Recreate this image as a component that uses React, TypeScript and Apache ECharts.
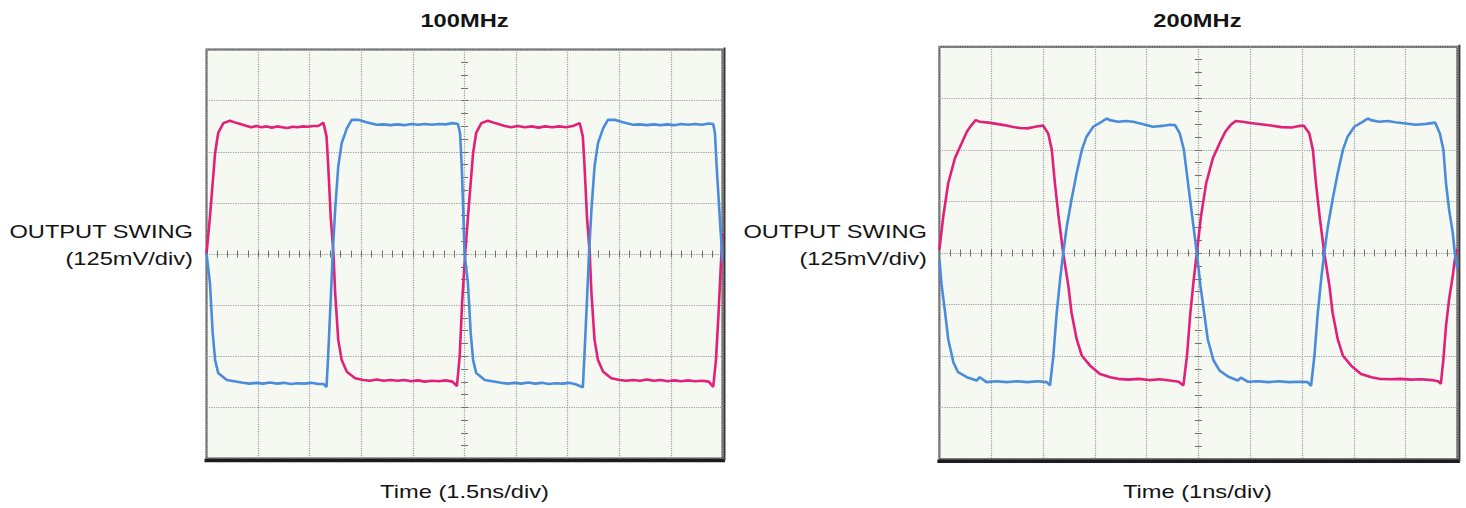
import { useEffect, useRef } from 'react';
import * as echarts from 'echarts';

// ---------- data (time in ns, amplitude in mV) ----------
const titles = ['100MHz', '200MHz'];
const xTitles = ['Time (1.5ns/div)', 'Time (1ns/div)'];
const yTitle1 = 'OUTPUT SWING';
const yTitle2 = '(125mV/div)';

const timeMax = [15, 10];
const timeDiv = [1.5, 1];
const voltMin = -500;
const voltMax = 500;
const voltDiv = 125;

const pink100: [number, number][] = [
  [0, 0], [0.10, 90], [0.18, 174], [0.25, 247], [0.34, 296], [0.49, 320], [0.68, 326], [0.89, 320], [1.17, 313],
  [1.30, 310], [1.45, 313], [1.60, 310], [1.75, 312], [1.90, 309], [2.05, 312], [2.20, 310], [2.35, 308], [2.50, 311],
  [2.65, 310], [2.80, 312], [2.95, 311], [3.10, 313], [3.25, 313], [3.40, 321],
  [3.49, 287], [3.54, 214], [3.61, 91], [3.69, 2], [3.74, -95], [3.83, -210], [3.93, -259], [4.08, -288], [4.32, -304], [4.56, -308],
  [4.75, -310], [4.95, -307], [5.15, -310], [5.35, -308], [5.55, -310], [5.75, -308], [5.95, -311], [6.15, -309],
  [6.35, -312], [6.55, -310], [6.75, -311], [6.95, -309], [7.15, -312], [7.28, -323],
  [7.36, -250], [7.43, -120], [7.52, 0], [7.60, 90], [7.68, 174], [7.75, 247], [7.84, 296], [7.99, 320], [8.18, 326], [8.39, 320], [8.67, 313],
  [8.85, 310], [9.05, 313], [9.25, 310], [9.45, 312], [9.65, 309], [9.85, 312], [10.05, 310], [10.25, 312], [10.45, 310], [10.65, 313], [10.85, 320],
  [10.94, 287], [10.99, 214], [11.06, 91], [11.14, 2], [11.19, -95], [11.28, -210], [11.38, -259], [11.53, -288], [11.77, -304], [12.01, -308],
  [12.2, -310], [12.4, -308], [12.6, -310], [12.8, -307], [13.0, -310], [13.2, -308], [13.4, -311], [13.6, -309],
  [13.8, -311], [14.0, -309], [14.2, -311], [14.4, -310], [14.6, -312], [14.73, -325],
  [14.81, -259], [14.88, -153], [14.95, -31], [15.0, 50],
];

const blue100: [number, number][] = [
  [0, 2], [0.10, -71], [0.18, -193], [0.25, -259], [0.34, -291], [0.59, -308], [1.06, -315],
  [1.25, -317], [1.45, -315], [1.65, -317], [1.85, -314], [2.05, -317], [2.25, -315], [2.45, -318], [2.65, -316],
  [2.85, -317], [3.05, -315], [3.25, -318], [3.40, -318], [3.49, -325],
  [3.54, -242], [3.61, -113], [3.67, 2], [3.74, 108], [3.83, 214], [3.93, 271], [4.08, 307], [4.22, 328], [4.41, 328], [4.65, 322], [4.95, 316],
  [5.15, 317], [5.35, 315], [5.55, 317], [5.75, 315], [5.95, 318], [6.15, 316], [6.35, 318], [6.55, 316], [6.75, 318], [6.95, 317], [7.15, 320], [7.31, 318],
  [7.37, 296], [7.42, 214], [7.47, 90], [7.50, 2], [7.60, -71], [7.68, -193], [7.75, -259], [7.84, -291], [8.09, -308], [8.56, -315],
  [8.75, -317], [8.95, -315], [9.15, -317], [9.35, -314], [9.55, -317], [9.75, -315], [9.95, -318], [10.15, -316],
  [10.35, -317], [10.55, -315], [10.75, -319], [10.94, -326],
  [10.99, -242], [11.06, -113], [11.12, 2], [11.19, 108], [11.28, 214], [11.38, 271], [11.53, 307], [11.67, 328], [11.86, 328], [12.10, 322], [12.40, 316],
  [12.6, 317], [12.8, 315], [13.0, 317], [13.2, 315], [13.4, 317], [13.6, 315], [13.8, 318], [14.0, 316], [14.2, 318], [14.4, 316], [14.6, 319], [14.73, 318],
  [14.78, 296], [14.83, 214], [14.93, 76], [14.98, 10], [15.0, -20],
];

const pink200: [number, number][] = [
  [0, 8], [0.075, 89], [0.17, 169], [0.30, 230], [0.43, 266], [0.53, 294], [0.62, 310], [0.70, 322], [0.78, 318],
  [0.95, 316], [1.10, 313], [1.25, 310], [1.40, 306], [1.55, 303], [1.70, 302], [1.85, 306], [2.0, 309],
  [2.10, 290], [2.17, 250], [2.23, 169], [2.30, 89], [2.39, 0], [2.49, -80], [2.55, -144], [2.65, -209], [2.75, -249],
  [2.91, -273], [3.10, -293], [3.30, -301], [3.45, -305],
  [3.65, -307], [3.85, -305], [4.05, -308], [4.25, -306], [4.45, -309], [4.62, -312], [4.71, -321],
  [4.78, -249], [4.84, -152], [4.91, -64], [4.97, 0], [5.05, 89], [5.15, 169], [5.28, 230], [5.41, 266], [5.52, 294], [5.62, 310], [5.72, 320], [5.85, 318],
  [6.0, 315], [6.2, 312], [6.4, 309], [6.6, 305], [6.8, 304], [6.95, 308], [7.04, 308],
  [7.14, 290], [7.21, 250], [7.27, 169], [7.34, 89], [7.43, 0], [7.53, -80], [7.59, -144], [7.69, -209], [7.79, -249],
  [7.95, -273], [8.14, -293], [8.34, -301], [8.49, -305],
  [8.7, -306], [8.9, -305], [9.1, -307], [9.3, -306], [9.5, -308], [9.63, -311], [9.68, -317],
  [9.73, -257], [9.78, -177], [9.84, -112], [9.91, -56], [9.95, -16], [10.0, 10],
];

const blue200: [number, number][] = [
  [0, -16], [0.045, -80], [0.11, -144], [0.17, -209], [0.27, -265], [0.36, -289], [0.53, -301], [0.72, -309], [0.78, -301], [0.91, -313],
  [1.1, -311], [1.3, -313], [1.5, -311], [1.7, -313], [1.9, -311], [2.07, -313], [2.135, -321],
  [2.20, -249], [2.26, -152], [2.33, -64], [2.39, 0], [2.46, 65], [2.55, 129], [2.65, 194], [2.75, 250], [2.84, 282],
  [2.97, 306], [3.13, 318], [3.23, 326], [3.29, 322], [3.45, 318],
  [3.6, 320], [3.74, 318], [3.9, 313], [4.12, 306], [4.3, 308], [4.45, 311], [4.55, 310],
  [4.64, 290], [4.72, 250], [4.80, 169], [4.88, 89], [4.97, 0], [5.04, -80], [5.11, -144], [5.18, -209], [5.29, -260],
  [5.41, -285], [5.58, -300], [5.76, -309], [5.82, -302], [5.95, -312],
  [6.15, -311], [6.35, -313], [6.55, -311], [6.75, -313], [6.95, -312], [7.11, -313], [7.175, -322],
  [7.24, -249], [7.30, -152], [7.37, -64], [7.43, 0], [7.50, 65], [7.59, 129], [7.69, 194], [7.79, 250], [7.88, 282],
  [8.01, 306], [8.17, 318], [8.27, 326], [8.33, 322], [8.49, 318],
  [8.65, 320], [8.8, 317], [9.0, 314], [9.2, 311], [9.4, 313], [9.57, 316],
  [9.66, 290], [9.73, 250], [9.78, 169], [9.84, 105], [9.91, 49], [9.95, 0], [10.0, -40],
];

// ---------- layout / style ----------
const FONT = '"Liberation Sans", Arial, Helvetica, sans-serif';
const PINK = '#e2207a';
const BLUE = '#4a8bdb';
const GRID_COLOR = '#9c9c9c';
const TICK_COLOR = '#6f6f6f';
const PLOT_BG = '#f6f9f2';
const SX = 1.28;

const grids = [
  { left: 206.5, top: 49.5, width: 516, height: 409 },
  { left: 939.4, top: 46.7, width: 518, height: 412.6 },
];

function makeXAxes(g: number) {
  const gr = grids[g];
  const base = {
    type: 'value' as const,
    gridIndex: g,
    min: 0,
    max: timeMax[g],
    interval: timeDiv[g],
    position: 'bottom' as const,
    offset: -gr.height / 2,
    axisLine: { show: false, onZero: false },
    axisLabel: { show: false },
    minorTick: { show: true, splitNumber: 5, length: 3.5, lineStyle: { color: TICK_COLOR, width: 1 } },
    minorSplitLine: { show: false },
  };
  return [
    {
      ...base,
      axisTick: { show: true, inside: false, length: 3.5, lineStyle: { color: TICK_COLOR, width: 1 } },
      splitLine: { show: true, lineStyle: { color: GRID_COLOR, type: 'dotted', width: 1.2 } },
    },
    {
      ...base,
      axisTick: { show: true, inside: true, length: 3.5, lineStyle: { color: TICK_COLOR, width: 1 } },
      splitLine: { show: false },
    },
  ];
}

function makeYAxes(g: number) {
  const gr = grids[g];
  const base = {
    type: 'value' as const,
    gridIndex: g,
    min: voltMin,
    max: voltMax,
    interval: voltDiv,
    position: 'left' as const,
    offset: -gr.width / 2,
    axisLine: { show: false, onZero: false },
    axisLabel: { show: false },
    minorTick: { show: true, splitNumber: 4, length: 3.5, lineStyle: { color: TICK_COLOR, width: 1 } },
    minorSplitLine: { show: false },
  };
  return [
    {
      ...base,
      axisTick: { show: true, inside: false, length: 3.5, lineStyle: { color: TICK_COLOR, width: 1 } },
      splitLine: { show: true, lineStyle: { color: GRID_COLOR, type: 'dotted', width: 1.2 } },
    },
    {
      ...base,
      axisTick: { show: true, inside: true, length: 3.5, lineStyle: { color: TICK_COLOR, width: 1 } },
      splitLine: { show: false },
    },
  ];
}

function trace(name: string, data: [number, number][], color: string, g: number) {
  return {
    name,
    type: 'line' as const,
    xAxisIndex: g * 2,
    yAxisIndex: g * 2,
    data,
    showSymbol: false,
    symbol: 'none',
    smooth: false,
    clip: true,
    lineStyle: { color, width: 2.6 },
    itemStyle: { color },
    z: 5,
  };
}

function text(t: string, x: number, y: number, align: string, bold = false) {
  return {
    type: 'text',
    x,
    y,
    scaleX: SX,
    z: 10,
    style: {
      text: t,
      fill: '#141414',
      fontSize: 18.5,
      fontWeight: bold ? 'bold' : 'normal',
      fontFamily: FONT,
      textAlign: align,
      textVerticalAlign: 'middle',
    },
  };
}

function frameLines(g: number) {
  const gr = grids[g];
  const r = gr.left + gr.width;
  const b = gr.top + gr.height;
  return [
    {
      type: 'line',
      z: 8,
      shape: { x1: gr.left - 2, y1: b + 2, x2: r + 2.5, y2: b + 2 },
      style: { stroke: '#1c1c1c', lineWidth: 3.5 },
    },
    {
      type: 'line',
      z: 8,
      shape: { x1: r + 2, y1: gr.top - 2, x2: r + 2, y2: b + 2 },
      style: { stroke: '#3a3a3a', lineWidth: 2 },
    },
  ];
}

const option = {
  animation: false,
  backgroundColor: '#ffffff',
  grid: grids.map((g) => ({
    ...g,
    show: true,
    backgroundColor: PLOT_BG,
    borderColor: '#555555',
    borderWidth: 2,
  })),
  xAxis: [...makeXAxes(0), ...makeXAxes(1)],
  yAxis: [...makeYAxes(0), ...makeYAxes(1)],
  series: [
    trace('OUT+ 100MHz', pink100, PINK, 0),
    trace('OUT- 100MHz', blue100, BLUE, 0),
    trace('OUT+ 200MHz', pink200, PINK, 1),
    trace('OUT- 200MHz', blue200, BLUE, 1),
  ],
  graphic: [
    text(titles[0], grids[0].left + grids[0].width / 2, 21, 'center', true),
    text(titles[1], grids[1].left + grids[1].width / 2 - 1, 21, 'center', true),
    text(xTitles[0], grids[0].left + grids[0].width / 2, 492, 'center'),
    text(xTitles[1], grids[1].left + grids[1].width / 2 - 1, 492, 'center'),
    text(yTitle1, 193, 232, 'right'),
    text(yTitle2, 193, 259, 'right'),
    text(yTitle1, 927, 232, 'right'),
    text(yTitle2, 927, 259, 'right'),
    ...frameLines(0),
    ...frameLines(1),
  ],
};

export default function App() {
  const ref = useRef<HTMLDivElement>(null);
  useEffect(() => {
    if (!ref.current) return;
    const chart = echarts.init(ref.current, null, { renderer: 'svg' });
    chart.setOption(option as any);
    return () => chart.dispose();
  }, []);
  return (
    <div
      ref={ref}
      style={{ position: 'absolute', left: 0, top: 0, width: 1466, height: 508 }}
    />
  );
}
